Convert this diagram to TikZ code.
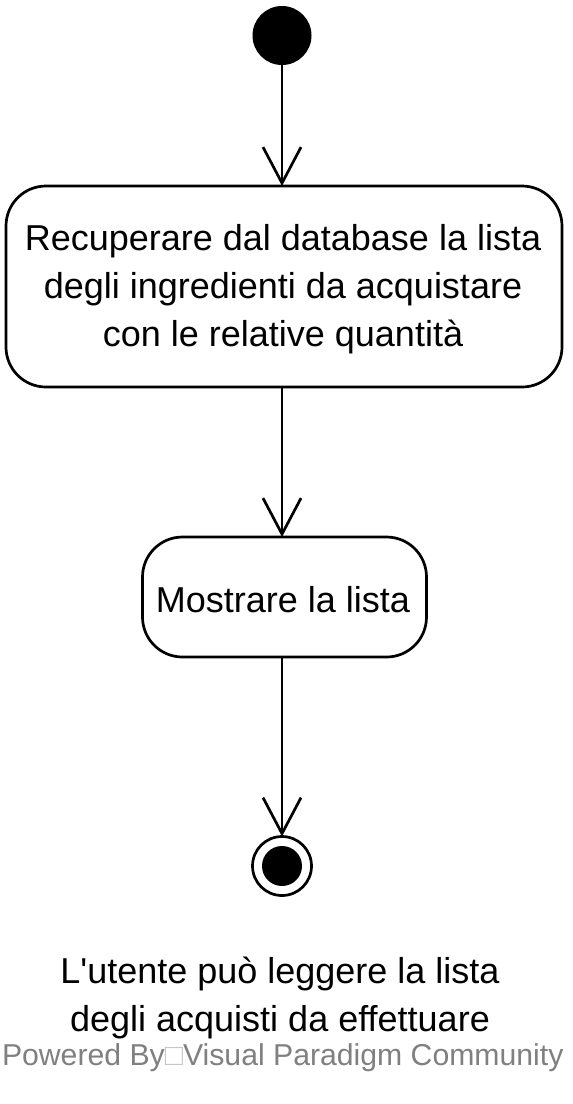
\documentclass[tikz,border=0pt]{standalone}
\usepackage{fontspec}
\setmainfont{Liberation Sans}[Ligatures={CommonOff}]
\usetikzlibrary{arrows.meta}
\begin{document}
\begin{tikzpicture}[x=1pt,y=-1pt,
  every node/.style={inner sep=0pt,outer sep=0pt},
  lw/.style={line width=2.7pt},
  arr/.style={lw,-{Straight Barb[length=36pt,width=38pt,line width=2.7pt]}},
  action/.style={draw,lw,rounded corners=40pt,align=center},
  txt/.style={align=center,font=\fontsize{36}{48}\selectfont}]
\useasboundingbox[fill=white] (0,0) rectangle (573,1104);
\node[circle,fill=black,minimum size=59pt] (start) at (282,35.5) {};
\node[action,minimum width=556pt,minimum height=201pt] (b1) at (284,286.5) {};
\node[txt] (t1) at (283,289) {Recuperare dal database la lista\\degli ingredienti da acquistare\\con le relative quantità};
\node[action,minimum width=284pt,minimum height=120pt] (b2) at (284.5,597) {};
\node[txt] (t2) at (283,600) {Mostrare la lista};
\node[circle,draw,lw,minimum size=59pt] (end) at (282,866) {};
\fill (end.center) circle (20pt);
\node[txt] (note) at (280,998) {L\textquotesingle utente può leggere la lista\\degli acquisti da effettuare};
\node[anchor=base west,font=\fontsize{30.2}{32}\selectfont,text=black!50] (wm) at (2,1065) {Powered By{\color{black!22}□}Visual Paradigm Community};
\draw[arr] (start.south) -- (start.south |- b1.north);
\draw[arr] (start.south |- b1.south) -- (start.south |- b2.north);
\draw[arr] (end.center |- b2.south) -- (end.north);
\end{tikzpicture}
\end{document}
